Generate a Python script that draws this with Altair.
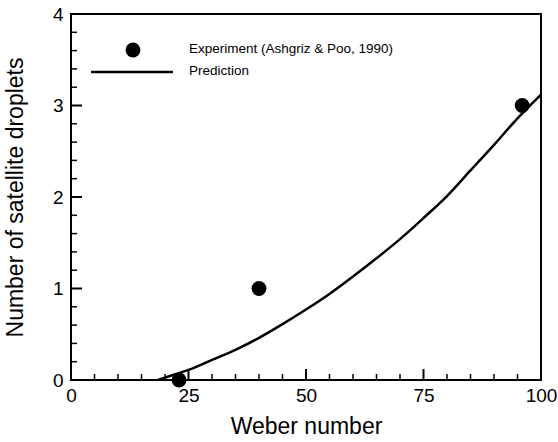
import altair as alt
import pandas as pd

# Experimental data (Ashgriz & Poo, 1990)
exp_weber = [23, 40, 96]
exp_count = [0, 1, 3]

# Predicted number of satellite droplets
pred_weber = [18.5, 22, 25, 30, 35, 40, 45, 50, 55, 60, 65, 70, 75, 80, 85, 90, 95, 100]
pred_count = [0.0, 0.06, 0.11, 0.22, 0.33, 0.46, 0.61, 0.77, 0.94, 1.13, 1.33, 1.54, 1.77, 2.01, 2.29, 2.57, 2.86, 3.12]

# Axis ticks
x_major = [0, 25, 50, 75, 100]
x_minor = [5, 10, 15, 20, 30, 35, 40, 45, 55, 60, 65, 70, 80, 85, 90, 95]
y_major = [0, 1, 2, 3, 4]
y_minor = [0.2, 0.4, 0.6, 0.8, 1.2, 1.4, 1.6, 1.8, 2.2, 2.4, 2.6, 2.8, 3.2, 3.4, 3.6, 3.8]

W, H = 470, 366
FONT = "Liberation Sans"
MAJOR_LEN, MINOR_LEN = 11, 6

xscale = alt.Scale(domain=[0, 100], nice=False, zero=False)
yscale = alt.Scale(domain=[0, 4], nice=False)

pred = pd.DataFrame({"We": pred_weber, "N": pred_count})
exp = pd.DataFrame({"We": exp_weber, "N": exp_count})


def label_axis(title, values, pad, tpad):
    return alt.Axis(title=title, values=values, format="d", ticks=False, labelFlush=False,
                    domain=False, grid=False, labelFontSize=19, titleFontSize=23,
                    labelPadding=pad, titlePadding=tpad, labelFont=FONT, titleFont=FONT,
                    labelColor="black", titleColor="black", titleFontWeight="normal")


line = alt.Chart(pred).mark_line(color="black", strokeWidth=2.5, interpolate="monotone").encode(
    x=alt.X("We:Q", scale=xscale, axis=label_axis("Weber number", x_major, 6, 10)),
    y=alt.Y("N:Q", scale=yscale,
            axis=label_axis("Number of satellite droplets", y_major, 8, 25)),
)

points = alt.Chart(exp).mark_circle(color="black", size=220, opacity=1, clip=False).encode(
    x=alt.X("We:Q", scale=xscale), y=alt.Y("N:Q", scale=yscale)
)


# Inward ticks drawn as line-shaped symbols anchored on the frame edge.
# A custom symbol path is scaled by sqrt(size)/2, so size = (2 * length)^2.
def xtick_symbols(vals, length, width):
    return alt.Chart(pd.DataFrame({"We": vals})).mark_point(
        shape="M0,0L0,-1", filled=False, color="black", strokeWidth=width,
        opacity=1, size=(2 * length) ** 2, clip=False,
    ).encode(x=alt.X("We:Q", scale=xscale), y=alt.value(H))


def ytick_symbols(vals, length, width):
    return alt.Chart(pd.DataFrame({"N": vals})).mark_point(
        shape="M0,0L1,0", filled=False, color="black", strokeWidth=width,
        opacity=1, size=(2 * length) ** 2, clip=False,
    ).encode(y=alt.Y("N:Q", scale=yscale), x=alt.value(0))


tick_layers = [
    xtick_symbols(x_minor, MINOR_LEN, 1.5), xtick_symbols(x_major, MAJOR_LEN, 2),
    ytick_symbols(y_minor, MINOR_LEN, 1.5), ytick_symbols(y_major, MAJOR_LEN, 2),
]

# Legend
leg_df = pd.DataFrame({"label": ["Experiment (Ashgriz & Poo, 1990)", "Prediction"],
                       "row": [0, 1]})
leg_dot = alt.Chart(leg_df.iloc[[0]]).mark_point(
    shape="circle", filled=True, color="black", size=220, opacity=1
).encode(x=alt.value(62), y=alt.value(36))
leg_line = alt.Chart(leg_df.iloc[[1]]).mark_rule(color="black", strokeWidth=2.5).encode(
    x=alt.value(20), x2=alt.value(102), y=alt.value(58)
)
leg_text1 = alt.Chart(leg_df.iloc[[0]]).mark_text(
    align="left", baseline="middle", font=FONT, fontSize=13.5, color="black"
).encode(x=alt.value(118), y=alt.value(35), text="label:N")
leg_text2 = alt.Chart(leg_df.iloc[[1]]).mark_text(
    align="left", baseline="middle", font=FONT, fontSize=13.5, color="black"
).encode(x=alt.value(118), y=alt.value(57), text="label:N")

chart = alt.layer(line, points, leg_dot, leg_line, leg_text1, leg_text2,
                  *tick_layers).properties(
    width=W, height=H,
    autosize=alt.AutoSizeParams(type="none"),
    padding={"left": 71, "top": 14, "right": 17, "bottom": 62},
    background="white",
).configure_view(stroke="black", strokeWidth=2)

chart.save("out.html", embed_options={"renderer": "svg", "actions": False})
